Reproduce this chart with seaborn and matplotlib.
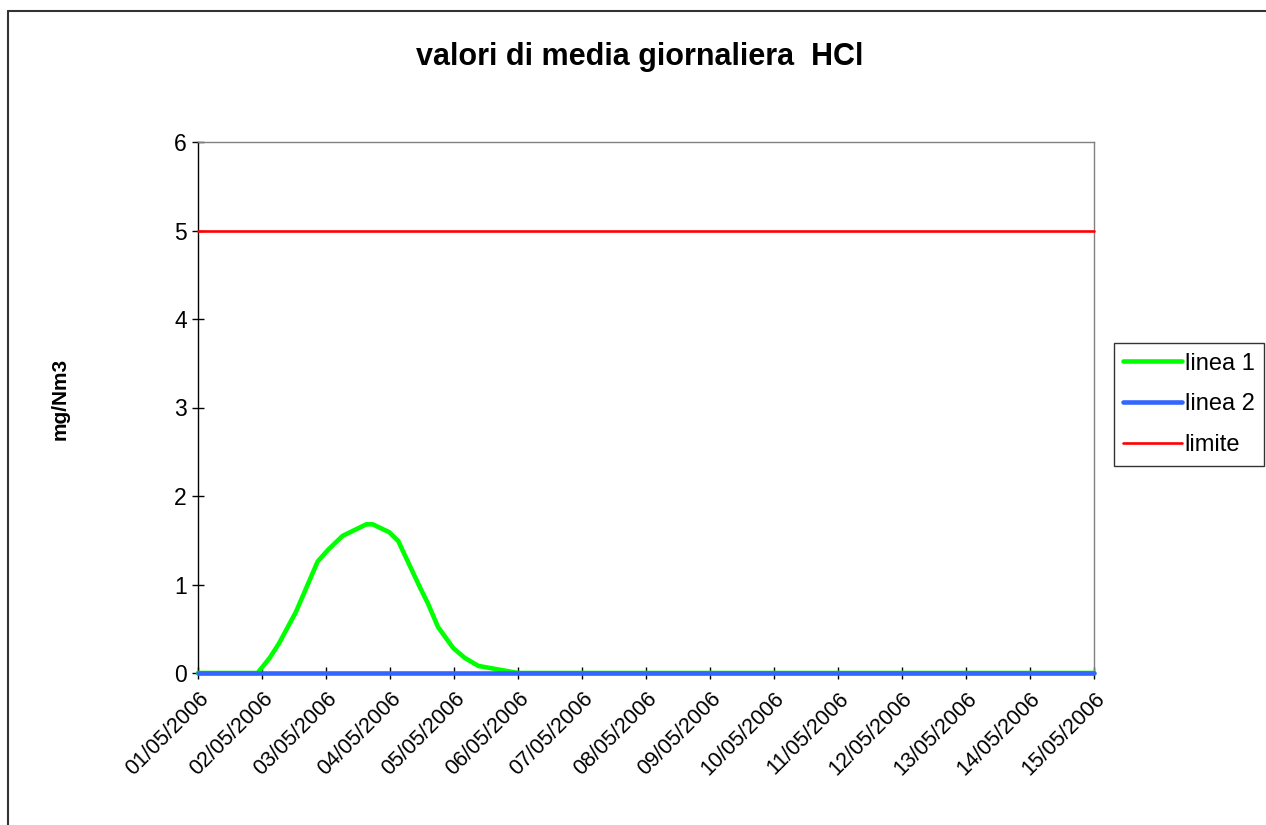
#!/usr/bin/env python3
"""
Daily average HCl values - Excel style line chart
"""

import pandas as pd
import seaborn as sns
import matplotlib.pyplot as plt
from matplotlib.lines import Line2D

# --- Data ---
days = ["01/05/2006", "02/05/2006", "03/05/2006", "04/05/2006", "05/05/2006",
        "06/05/2006", "07/05/2006", "08/05/2006", "09/05/2006", "10/05/2006",
        "11/05/2006", "12/05/2006", "13/05/2006", "14/05/2006", "15/05/2006"]
day_pos = [0, 1, 2, 3, 4, 5, 6, 7, 8, 9, 10, 11, 12, 13, 14]

# linea 1: position in days from 01/05, value in mg/Nm3
linea1_x = [0.0, 0.93, 1.12, 1.27, 1.53, 1.87, 2.03, 2.26, 2.63, 2.73, 2.99,
            3.13, 3.33, 3.48, 3.59, 3.75, 3.99, 4.17, 4.38, 5.0, 14.0]
linea1_y = [0.0, 0.0, 0.17, 0.34, 0.69, 1.26, 1.39, 1.55, 1.68, 1.68, 1.59,
            1.49, 1.18, 0.95, 0.79, 0.52, 0.28, 0.17, 0.08, 0.0, 0.0]

linea2_y = [0, 0, 0, 0, 0, 0, 0, 0, 0, 0, 0, 0, 0, 0, 0]
limite_y = [5, 5, 5, 5, 5, 5, 5, 5, 5, 5, 5, 5, 5, 5, 5]

df1 = pd.DataFrame({"x": linea1_x, "y": linea1_y})
df2 = pd.DataFrame({"x": day_pos, "y": linea2_y})
df3 = pd.DataFrame({"x": day_pos, "y": limite_y})

# --- Style ---
sns.set_theme(style="white")
plt.rcParams.update({
    "font.family": ["Liberation Sans", "DejaVu Sans"],
    "text.color": "black",
    "axes.labelcolor": "black",
    "xtick.color": "black",
    "ytick.color": "black",
})

fig = plt.figure(figsize=(12.66, 8.25), dpi=100)
ax = fig.add_axes([198 / 1266, 1 - 673 / 825, (1094 - 198) / 1266, (673 - 142) / 825])

sns.lineplot(data=df1, x="x", y="y", sort=False, ax=ax, color="#00FF00",
             linewidth=3.3, label="linea 1", clip_on=False, zorder=3)
sns.lineplot(data=df2, x="x", y="y", sort=False, ax=ax, color="#3366FF",
             linewidth=3.3, label="linea 2", clip_on=False, zorder=4)
sns.lineplot(data=df3, x="x", y="y", sort=False, ax=ax, color="#FF0000",
             linewidth=1.9, label="limite", clip_on=False, zorder=3)

# Axes
ax.set_xlim(0, 14)
ax.set_ylim(0, 6)
ax.set_xticks(day_pos)
ax.set_xticklabels(days, rotation=45, ha="right", rotation_mode="anchor", fontsize=15.5)
ax.set_yticks([0, 1, 2, 3, 4, 5, 6])
ax.set_yticklabels(["0", "1", "2", "3", "4", "5", "6"], fontsize=16.5)
ax.tick_params(axis="both", direction="inout", length=8, width=1, color="black",
               labelcolor="black", bottom=True, left=True, pad=4)
ax.tick_params(axis="x", pad=7)
ax.set_xlabel("")
ax.set_ylabel("")
ax.grid(False)

for side in ["top", "right"]:
    ax.spines[side].set_color("#808080")
    ax.spines[side].set_linewidth(1.0)
for side in ["left", "bottom"]:
    ax.spines[side].set_color("black")
    ax.spines[side].set_linewidth(1.0)

# Title and y label
fig.text(640 / 1266, 1 - 57 / 825, "valori di media giornaliera  HCl",
         ha="center", va="center", fontsize=22, fontweight="bold", color="black")
fig.text(60 / 1266, 1 - 399 / 825, "mg/Nm3", ha="center", va="center",
         rotation=90, fontsize=15, fontweight="bold", color="black")

# Legend
leg = ax.legend(loc="center left", bbox_to_anchor=(1114 / 1266, 1 - 404.5 / 825),
                bbox_transform=fig.transFigure, frameon=True, fancybox=False,
                fontsize=17, handlelength=2.5, handletextpad=0.1,
                borderpad=0.4, labelspacing=0.8, borderaxespad=0)
leg.get_frame().set_edgecolor("black")
leg.get_frame().set_linewidth(1.0)
for t in leg.get_texts():
    t.set_color("black")

# Chart area border (left and top visible)
fig.add_artist(Line2D([8 / 1266, 8 / 1266], [0, 1 - 11 / 825],
                      transform=fig.transFigure, color="#333333", linewidth=1.5))
fig.add_artist(Line2D([8 / 1266, 1], [1 - 11 / 825, 1 - 11 / 825],
                      transform=fig.transFigure, color="#333333", linewidth=1.5))

fig.savefig("out.png", dpi=100, facecolor="white")
